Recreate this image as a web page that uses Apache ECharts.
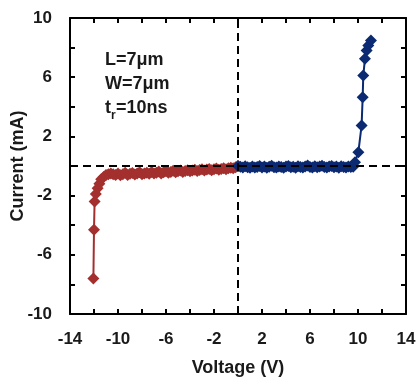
<!DOCTYPE html>
<html>
<head>
<meta charset="utf-8">
<script src="https://cdn.jsdelivr.net/npm/echarts@6/dist/echarts.min.js"></script>
<style>
  html, body { margin: 0; padding: 0; background: #fff; }
  #chart { width: 417px; height: 379px; }
</style>
</head>
<body>
<div id="chart"></div>
<script>
// negative sweep (red)
const redVoltage = [-12.05, -12.0, -11.95, -11.85, -11.7, -11.55, -11.4, -11.2, -11.0, -10.8, -10.6,
  -10.4, -10.2, -10.0, -9.8, -9.6, -9.4, -9.2, -9.0, -8.8, -8.6, -8.4, -8.2, -8.0, -7.8, -7.6,
  -7.4, -7.2, -7.0, -6.8, -6.6, -6.4, -6.2, -6.0, -5.8, -5.6, -5.4, -5.2, -5.0, -4.8, -4.6,
  -4.4, -4.2, -4.0, -3.8, -3.6, -3.4, -3.2, -3.0, -2.8, -2.6, -2.4, -2.2, -2.0, -1.8, -1.6,
  -1.4, -1.2, -1.0, -0.8, -0.6, -0.4, -0.2, 0];
const redCurrent = [-7.6, -4.3, -2.4, -1.9, -1.5, -1.2, -0.9, -0.75, -0.6, -0.55, -0.5,
  -0.55, -0.6, -0.5, -0.62, -0.55, -0.45, -0.6, -0.52, -0.48, -0.58, -0.5, -0.42, -0.55, -0.5, -0.45,
  -0.52, -0.4, -0.5, -0.45, -0.38, -0.5, -0.42, -0.36, -0.45, -0.4, -0.32, -0.42, -0.35, -0.3, -0.4,
  -0.33, -0.28, -0.36, -0.3, -0.25, -0.33, -0.27, -0.22, -0.3, -0.24, -0.2, -0.28, -0.22, -0.17, -0.25,
  -0.2, -0.15, -0.22, -0.16, -0.12, -0.15, -0.08, 0];

// positive sweep (blue)
const blueVoltage = [0, 0.2, 0.4, 0.6, 0.8, 1.0, 1.2, 1.4, 1.6, 1.8, 2.0, 2.2, 2.4, 2.6, 2.8, 3.0,
  3.2, 3.4, 3.6, 3.8, 4.0, 4.2, 4.4, 4.6, 4.8, 5.0, 5.2, 5.4, 5.6, 5.8, 6.0, 6.2, 6.4, 6.6, 6.8,
  7.0, 7.2, 7.4, 7.6, 7.8, 8.0, 8.2, 8.4, 8.6, 8.8, 9.0, 9.2, 9.4, 9.6, 9.75, 10.03, 10.3, 10.39,
  10.44, 10.58, 10.72, 10.86, 11.08];
const blueCurrent = [0, -0.05, -0.1, -0.02, -0.08, -0.12, -0.03, -0.1, -0.06, 0.0, -0.1, -0.04, -0.12, -0.05, 0.02, -0.08,
  -0.1, -0.03, -0.07, -0.12, -0.04, 0.0, -0.09, -0.05, -0.11, -0.02, -0.07, -0.1, -0.04, 0.03, -0.06, -0.1, -0.02, -0.08, -0.04,
  0.02, -0.06, -0.1, -0.03, 0.0, -0.08, -0.04, -0.11, -0.02, -0.06, -0.1, -0.03, -0.07, -0.05, 0.26, 0.93, 2.74, 4.65,
  6.11, 7.24, 7.8, 8.14, 8.48];

const xTickLabels = [-14, -10, -6, -2, 2, 6, 10, 14];
const yTickLabels = [-10, -6, -2, 2, 6, 10];

const red = '#a3302e';
const blue = '#0b2a72';
const ink = '#1a1a1a';
const font = 'Liberation Sans, Arial, sans-serif';

const pairs = (xs, ys) => xs.map((x, i) => [x, ys[i]]);

const baseAxis = {
  axisLine: { onZero: false, lineStyle: { color: '#000', width: 2 } },
  axisTick: { show: true, inside: true, length: 5, lineStyle: { color: '#000', width: 2 } },
  splitLine: { show: false }
};

const chart = echarts.init(document.getElementById('chart'));
chart.setOption({
  animation: false,
  grid: { left: 70, right: 11, top: 18, bottom: 65, containLabel: false, outerBoundsMode: 'none' },
  xAxis: [
    Object.assign({}, baseAxis, {
      type: 'value', min: -14, max: 14, interval: 2, position: 'bottom',
      name: 'Voltage (V)', nameLocation: 'middle', nameGap: 45, nameMoveOverlap: false,
      nameTextStyle: { fontFamily: font, fontWeight: 'bold', fontSize: 18, color: ink },
      axisLabel: {
        margin: 17, fontFamily: font, fontWeight: 'bold', fontSize: 17, color: ink,
        formatter: v => xTickLabels.includes(v) ? String(v) : ''
      }
    }),
    Object.assign({}, baseAxis, {
      type: 'value', min: -14, max: 14, interval: 2, position: 'top', axisLabel: { show: false }
    })
  ],
  yAxis: [
    Object.assign({}, baseAxis, {
      type: 'value', min: -10, max: 10, interval: 2, position: 'left',
      name: 'Current (mA)', nameLocation: 'middle', nameGap: 43, nameMoveOverlap: false,
      nameTextStyle: { fontFamily: font, fontWeight: 'bold', fontSize: 18, color: ink },
      axisLabel: {
        margin: 18, fontFamily: font, fontWeight: 'bold', fontSize: 17, color: ink,
        formatter: v => yTickLabels.includes(v) ? String(v) : ''
      }
    }),
    Object.assign({}, baseAxis, {
      type: 'value', min: -10, max: 10, interval: 2, position: 'right', axisLabel: { show: false }
    })
  ],
  graphic: [
    { type: 'text', left: 105, top: 51, style: { text: 'L=7μm', font: 'bold 18px ' + font, fill: ink } },
    { type: 'text', left: 105, top: 75, style: { text: 'W=7μm', font: 'bold 18px ' + font, fill: ink } },
    { type: 'text', left: 105, top: 99, style: { text: 't', font: 'bold 18px ' + font, fill: ink } },
    { type: 'text', left: 111, top: 110, style: { text: 'r', font: 'bold 12px ' + font, fill: ink } },
    { type: 'text', left: 116, top: 99, style: { text: '=10ns', font: 'bold 18px ' + font, fill: ink } }
  ],
  series: [
    {
      type: 'line', data: pairs(redVoltage, redCurrent),
      symbol: 'diamond', symbolSize: 12,
      itemStyle: { color: red }, lineStyle: { color: red, width: 2 },
      z: 3,
      markLine: {
        silent: true, symbol: 'none', label: { show: false },
        lineStyle: { color: '#000', type: [8, 5], width: 2 },
        data: [{ xAxis: 0 }, { yAxis: 0 }],
        z: 5
      }
    },
    {
      type: 'line', data: pairs(blueVoltage, blueCurrent),
      symbol: 'diamond', symbolSize: 12,
      itemStyle: { color: blue }, lineStyle: { color: blue, width: 2 },
      z: 3
    }
  ]
});
</script>
</body>
</html>
